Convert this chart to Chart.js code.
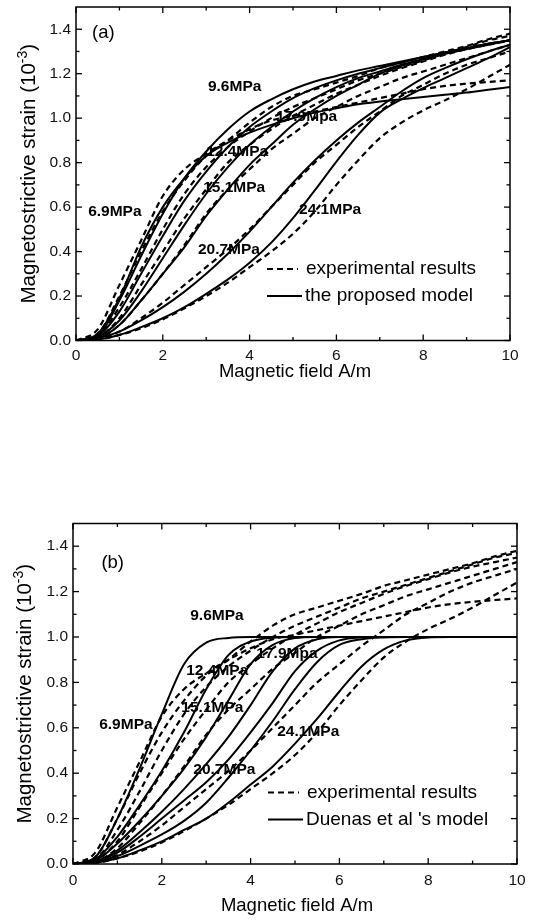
<!DOCTYPE html>
<html lang="en">
<head>
<meta charset="UTF-8" />
<title>Magnetostrictive strain vs magnetic field</title>
<script src="https://cdn.jsdelivr.net/npm/chart.js"></script>
<style>
  html, body { margin: 0; padding: 0; background: #fff; }
  #wrap { position: relative; width: 536px; height: 923px; overflow: hidden; background: #fff; }
  #wrap canvas { position: absolute; left: 0; }
</style>
</head>
<body>
<div id="wrap">
  <canvas id="chartA" width="536" height="460" style="top:0px"></canvas>
  <canvas id="chartB" width="536" height="463" style="top:460px"></canvas>
</div>
<script>
// magnetic field grid (A/m) shared by all curves
const fieldH = [0, 0.5, 1, 1.5, 2, 2.5, 3, 3.5, 4, 4.5, 5, 5.5, 6, 6.5, 7, 7.5, 8, 8.5, 9, 9.5, 10];
const stressLevels = ['6.9MPa', '9.6MPa', '12.4MPa', '15.1MPa', '17.9Mpa', '20.7MPa', '24.1MPa'];

// experimental results (dashed), strain in 1e-3
const exp6_9  = [0, 0.05, 0.25, 0.45, 0.65, 0.77, 0.84, 0.90, 0.95, 0.99, 1.01, 1.03, 1.05, 1.07, 1.09, 1.11, 1.13, 1.145, 1.155, 1.163, 1.17];
const exp9_6  = [0, 0.03, 0.20, 0.40, 0.58, 0.72, 0.83, 0.90, 0.98, 1.05, 1.10, 1.13, 1.16, 1.19, 1.225, 1.25, 1.275, 1.30, 1.325, 1.355, 1.38];
const exp12_4 = [0, 0.02, 0.15, 0.32, 0.50, 0.66, 0.78, 0.87, 0.94, 1.00, 1.05, 1.09, 1.13, 1.17, 1.20, 1.23, 1.26, 1.29, 1.32, 1.35, 1.37];
const exp15_1 = [0, 0.015, 0.10, 0.25, 0.40, 0.55, 0.68, 0.80, 0.88, 0.95, 1.01, 1.06, 1.11, 1.15, 1.19, 1.225, 1.255, 1.285, 1.31, 1.33, 1.35];
const exp17_9 = [0, 0.01, 0.07, 0.18, 0.30, 0.43, 0.57, 0.68, 0.77, 0.86, 0.93, 1.00, 1.05, 1.10, 1.14, 1.18, 1.21, 1.24, 1.27, 1.30, 1.33];
const exp20_7 = [0, 0.01, 0.04, 0.10, 0.17, 0.25, 0.33, 0.41, 0.50, 0.60, 0.70, 0.80, 0.88, 0.96, 1.03, 1.10, 1.15, 1.20, 1.24, 1.27, 1.30];
const exp24_1 = [0, 0.005, 0.025, 0.055, 0.095, 0.145, 0.20, 0.26, 0.33, 0.40, 0.48, 0.58, 0.70, 0.81, 0.91, 0.98, 1.035, 1.08, 1.13, 1.185, 1.24];

// (a) the proposed model (solid)
const mod6_9  = [0, 0.03, 0.19, 0.42, 0.60, 0.73, 0.83, 0.89, 0.935, 0.97, 1.00, 1.025, 1.045, 1.063, 1.075, 1.085, 1.095, 1.105, 1.115, 1.128, 1.14];
const mod9_6  = [0, 0.02, 0.18, 0.38, 0.57, 0.73, 0.85, 0.95, 1.03, 1.085, 1.13, 1.165, 1.19, 1.215, 1.235, 1.255, 1.275, 1.295, 1.315, 1.335, 1.35];
const mod12_4 = [0, 0.02, 0.13, 0.30, 0.47, 0.63, 0.76, 0.87, 0.96, 1.03, 1.09, 1.135, 1.17, 1.20, 1.225, 1.25, 1.275, 1.295, 1.315, 1.335, 1.35];
const mod15_1 = [0, 0.015, 0.09, 0.22, 0.37, 0.52, 0.66, 0.78, 0.88, 0.96, 1.03, 1.09, 1.14, 1.18, 1.21, 1.24, 1.265, 1.29, 1.31, 1.33, 1.35];
const mod17_9 = [0, 0.01, 0.07, 0.18, 0.30, 0.42, 0.56, 0.68, 0.79, 0.88, 0.97, 1.04, 1.10, 1.15, 1.20, 1.235, 1.265, 1.295, 1.315, 1.335, 1.35];
const mod20_7 = [0, 0.01, 0.04, 0.09, 0.15, 0.22, 0.30, 0.39, 0.49, 0.60, 0.71, 0.81, 0.90, 0.98, 1.05, 1.12, 1.18, 1.225, 1.265, 1.30, 1.33];
const mod24_1 = [0, 0.005, 0.025, 0.06, 0.10, 0.15, 0.21, 0.275, 0.35, 0.44, 0.55, 0.675, 0.805, 0.925, 1.025, 1.085, 1.135, 1.18, 1.225, 1.27, 1.32];

// (b) Duenas et al's model (solid), saturates at 1.0
const due6_9  = [0, 0.03, 0.20, 0.42, 0.66, 0.88, 0.975, 0.996, 1, 1, 1, 1, 1, 1, 1, 1, 1, 1, 1, 1, 1];
const due9_6  = [0, 0.02, 0.12, 0.26, 0.41, 0.58, 0.77, 0.92, 0.98, 0.997, 1, 1, 1, 1, 1, 1, 1, 1, 1, 1, 1];
const due12_4 = [0, 0.015, 0.09, 0.19, 0.30, 0.42, 0.56, 0.72, 0.88, 0.965, 0.995, 1, 1, 1, 1, 1, 1, 1, 1, 1, 1];
const due15_1 = [0, 0.01, 0.06, 0.14, 0.23, 0.33, 0.44, 0.56, 0.70, 0.85, 0.95, 0.99, 1, 1, 1, 1, 1, 1, 1, 1, 1];
const due17_9 = [0, 0.01, 0.05, 0.12, 0.20, 0.28, 0.36, 0.46, 0.58, 0.71, 0.85, 0.94, 0.985, 0.998, 1, 1, 1, 1, 1, 1, 1];
const due20_7 = [0, 0.01, 0.035, 0.08, 0.13, 0.19, 0.27, 0.38, 0.50, 0.63, 0.77, 0.89, 0.965, 0.99, 0.998, 1, 1, 1, 1, 1, 1];
const due24_1 = [0, 0.005, 0.025, 0.06, 0.10, 0.15, 0.20, 0.27, 0.35, 0.43, 0.53, 0.64, 0.76, 0.87, 0.945, 0.985, 0.998, 1, 1, 1, 1];

const experimental = [exp6_9, exp9_6, exp12_4, exp15_1, exp17_9, exp20_7, exp24_1];
const proposedModel = [mod6_9, mod9_6, mod12_4, mod15_1, mod17_9, mod20_7, mod24_1];
const duenasModel = [due6_9, due9_6, due12_4, due15_1, due17_9, due20_7, due24_1];

const xTickValues = [0, 2, 4, 6, 8, 10];
const xMinorTicks = [1, 3, 5, 7, 9];
const yTickValues = [0, 0.2, 0.4, 0.6, 0.8, 1.0, 1.2, 1.4];
const yMinorTicks = [0.1, 0.3, 0.5, 0.7, 0.9, 1.1, 1.3];

// curve annotations, in data coordinates
const labelPosA = [[0.28, 0.58], [3.04, 1.142], [3.0, 0.849], [2.93, 0.687], [4.61, 1.007], [2.81, 0.408], [5.14, 0.588]];
const labelPosB = [[0.59, 0.612], [2.64, 1.093], [2.55, 0.85], [2.44, 0.687], [4.13, 0.925], [2.71, 0.414], [4.6, 0.581]];
const legendA = ['experimental results', 'the proposed model'];
const legendB = ['experimental results', "Duenas et al 's model"];

const sansFont = '"Liberation Sans", Arial, Helvetica, sans-serif';

function toPoints(vals) {
  return fieldH.map((h, i) => ({ x: h, y: vals[i] }));
}

function buildDatasets(model) {
  const sets = [];
  experimental.forEach((vals, i) => sets.push({
    label: 'exp ' + stressLevels[i], data: toPoints(vals),
    borderColor: '#000', borderWidth: 2.2, borderDash: [6, 4]
  }));
  model.forEach((vals, i) => sets.push({
    label: 'model ' + stressLevels[i], data: toPoints(vals),
    borderColor: '#000', borderWidth: 2
  }));
  return sets;
}

function line(ctx, x1, y1, x2, y2) {
  ctx.beginPath();
  ctx.moveTo(x1, y1);
  ctx.lineTo(x2, y2);
  ctx.stroke();
}

function decorPlugin(p) {
  return {
    id: 'decor',
    beforeDatasetsDraw(chart) {
      const { ctx, scales: { x, y } } = chart;
      ctx.save();
      ctx.fillStyle = '#000';
      ctx.textAlign = 'left';
      ctx.textBaseline = 'middle';
      ctx.font = 'bold 15.5px ' + sansFont;
      stressLevels.forEach((txt, i) => {
        const [lx, ly] = p.labelPos[i];
        ctx.fillText(txt, x.getPixelForValue(lx), y.getPixelForValue(ly));
      });
      ctx.font = '18.5px ' + sansFont;
      ctx.fillText(p.tag, x.getPixelForValue(p.tagPos[0]), y.getPixelForValue(p.tagPos[1]));
      ctx.restore();
    },
    afterDraw(chart) {
      const { ctx, chartArea: a, scales: { x, y } } = chart;
      ctx.save();
      ctx.strokeStyle = '#000';
      ctx.lineWidth = 1.5;
      ctx.strokeRect(a.left, a.top, a.right - a.left, a.bottom - a.top);

      // inward ticks on all four sides
      ctx.lineWidth = 1.3;
      const xt = xTickValues.map(v => [v, 6]).concat(xMinorTicks.map(v => [v, 3.5]));
      xt.forEach(([v, len]) => {
        const px = x.getPixelForValue(v);
        line(ctx, px, a.bottom, px, a.bottom - len);
        line(ctx, px, a.top, px, a.top + len);
      });
      const yt = yTickValues.map(v => [v, 6]).concat(yMinorTicks.map(v => [v, 3.5]));
      yt.forEach(([v, len]) => {
        const py = y.getPixelForValue(v);
        line(ctx, a.left, py, a.left + len, py);
        line(ctx, a.right, py, a.right - len, py);
      });

      // legend
      ctx.fillStyle = '#000';
      ctx.font = '19px ' + sansFont;
      ctx.textBaseline = 'middle';
      ctx.textAlign = 'left';
      const lx = a.left + p.legendX;
      const y1 = a.bottom - 71.5, y2 = a.bottom - 44.5;
      ctx.lineWidth = 2.2;
      ctx.setLineDash([6, 4]);
      line(ctx, lx, y1, lx + 31, y1);
      ctx.setLineDash([]);
      ctx.lineWidth = 2;
      line(ctx, lx, y2, lx + 35, y2);
      ctx.fillText(p.legend[0], lx + 39, y1);
      ctx.fillText(p.legend[1], lx + 38, y2);

      // x axis title
      ctx.textAlign = 'center';
      ctx.font = '18.5px ' + sansFont;
      ctx.fillText('Magnetic field A/m', (a.left + a.right) / 2 + 2, p.xTitleY);

      // y axis title with superscript
      const main = 'Magnetostrictive strain (10', sup = '-3', tail = ')';
      ctx.translate(p.yTitleX, (a.top + a.bottom) / 2);
      ctx.rotate(-Math.PI / 2);
      ctx.textAlign = 'left';
      ctx.textBaseline = 'alphabetic';
      ctx.font = '20.5px ' + sansFont;
      const w1 = ctx.measureText(main).width;
      const w3 = ctx.measureText(tail).width;
      ctx.font = '14px ' + sansFont;
      const w2 = ctx.measureText(sup).width;
      const tx = -(w1 + w2 + w3) / 2;
      ctx.font = '20.5px ' + sansFont;
      ctx.fillText(main, tx, 7.3);
      ctx.font = '14px ' + sansFont;
      ctx.fillText(sup, tx + w1, -1.5);
      ctx.font = '20.5px ' + sansFont;
      ctx.fillText(tail, tx + w1 + w2, 7.3);
      ctx.restore();
    }
  };
}

function makeChart(id, model, p) {
  const canvasH = document.getElementById(id).height;
  return new Chart(document.getElementById(id), {
    type: 'line',
    data: { datasets: buildDatasets(model) },
    options: {
      responsive: false,
      animation: false,
      layout: { padding: { top: p.area.top, right: 536 - p.area.right, left: 0, bottom: 0 } },
      plugins: { legend: { display: false }, tooltip: { enabled: false } },
      elements: {
        point: { radius: 0 },
        line: { cubicInterpolationMode: 'monotone', fill: false }
      },
      scales: {
        x: {
          type: 'linear', min: 0, max: 10,
          grid: { display: false, drawTicks: false },
          border: { display: false },
          ticks: { color: '#111', font: { family: sansFont, size: 15.5 }, padding: p.xPad, maxRotation: 0 },
          afterBuildTicks: s => { s.ticks = xTickValues.map(v => ({ value: v })); },
          afterFit: s => { s.height = canvasH - p.area.bottom; s.paddingLeft = 0; s.paddingRight = 0; }
        },
        y: {
          type: 'linear', min: 0, max: 1.5,
          grid: { display: false, drawTicks: false },
          border: { display: false },
          ticks: {
            color: '#111', font: { family: sansFont, size: 15.5 }, padding: 5,
            callback: v => Number(v).toFixed(1)
          },
          afterBuildTicks: s => { s.ticks = yTickValues.map(v => ({ value: v })); },
          afterFit: s => { s.width = p.area.left; s.paddingTop = 0; s.paddingBottom = 0; }
        }
      }
    },
    plugins: [decorPlugin(p)]
  });
}

makeChart('chartA', proposedModel, {
  area: { left: 76, right: 510, top: 7, bottom: 340.5 },
  labelPos: labelPosA, tag: '(a)', tagPos: [0.37, 1.385],
  legend: legendA, legendX: 191, xPad: 6, xTitleY: 372, yTitleX: 28
});
makeChart('chartB', duenasModel, {
  area: { left: 73, right: 517, top: 63.5, bottom: 404 },
  labelPos: labelPosB, tag: '(b)', tagPos: [0.64, 1.326],
  legend: legendB, legendX: 195, xPad: 7, xTitleY: 446, yTitleX: 24
});
</script>
</body>
</html>
